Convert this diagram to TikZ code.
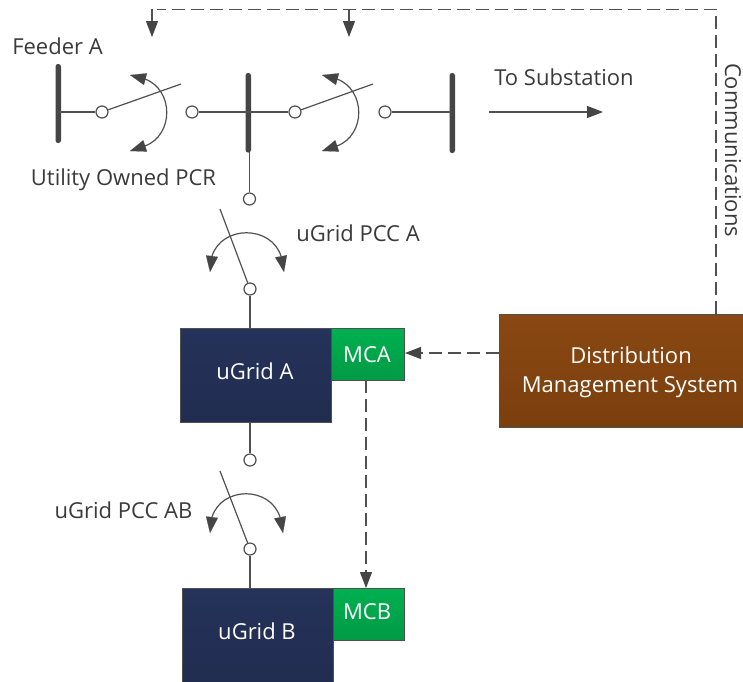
\documentclass[tikz,border=0pt]{standalone}
\usepackage{fontspec}
\setmainfont{Open Sans}
\usetikzlibrary{arrows.meta,calc}
\definecolor{ln}{HTML}{505050}
\definecolor{hd}{HTML}{454545}
\definecolor{tx}{HTML}{3A3A3A}
\definecolor{navyT}{HTML}{253259}
\definecolor{navyB}{HTML}{212C50}
\definecolor{greenT}{HTML}{00B050}
\definecolor{greenB}{HTML}{029A45}
\definecolor{brownT}{HTML}{8A4812}
\definecolor{brownB}{HTML}{7A3F0E}
\tikzset{
  x=1pt,y=-1pt,
  wire/.style={draw=ln,line width=1.2pt},
  comm/.style={draw=ln,line width=1.2pt,dash pattern=on 13pt off 6pt},
  bighead/.tip={Triangle[length=16pt,width=12pt,color=hd]},
  tip/.style={-bighead},
  stub/.style={draw=ln,line width=.1pt,-bighead},
  contact/.style={circle,draw=ln,fill=white,line width=1.2pt,minimum size=12pt,inner sep=0pt},
  lab/.style={text=tx,font=\fontsize{22}{26}\selectfont,inner sep=0pt},
  boxlab/.style={text=white,font=\fontsize{22}{26}\selectfont,inner sep=0pt},
  grid/.style={rectangle,draw=ln,line width=1pt,top color=navyT,bottom color=navyB,anchor=north west,inner sep=0pt},
  mc/.style={rectangle,draw=ln,line width=1pt,top color=greenT,bottom color=greenB,anchor=north west,inner sep=0pt},
}
\begin{document}
\begin{tikzpicture}
\useasboundingbox (0,0) rectangle (743,681);
% buses
\fill[hd,rounded corners=2.5pt] (55.5,64) rectangle (61,143);
\coordinate (busA) at (58,112);
\fill[hd,rounded corners=2.5pt] (245.5,73) rectangle (251,152.5);
\coordinate (busB) at (248,112);
\coordinate (busBlow) at (249.5,152);
\fill[hd,rounded corners=2.5pt] (449.5,73) rectangle (455,153);
\coordinate (busC) at (452,112);
% boxes
\node[grid,minimum width=151pt,minimum height=94pt] (gridA) at (180,328) {};
\node[boxlab] at (255,371) {uGrid A};
\node[mc,minimum width=73pt,minimum height=52pt] (mca) at (331,328) {};
\node[boxlab] at (367,355) {MCA};
\node[grid,minimum width=151pt,minimum height=100pt] (gridB) at (182,588) {};
\node[boxlab] at (257,631) {uGrid B};
\node[mc,minimum width=71pt,minimum height=52pt] (mcb) at (333,588) {};
\node[boxlab] at (367,612) {MCB};
\node[rectangle,draw=ln,line width=1pt,top color=brownT,bottom color=brownB,anchor=north west,inner sep=0pt,minimum width=250pt,minimum height=113pt] (dms) at (499,314) {};
\node[boxlab] at (631,355) {Distribution};
\node[boxlab] at (630,387) {Management System};
% contacts
\node[contact] (c1) at (102,112) {};
\node[contact] (c2) at (192,112) {};
\node[contact] (c3) at (295,112) {};
\node[contact] (c4) at (385,112) {};
\node[contact] (c5) at (249.5,199) {};
\node[contact] (c6) at (250,289) {};
\node[contact] (c7) at (250,460) {};
\node[contact] (c8) at (250,549) {};
% wires
\draw[wire] (busA) -- (c1);
\draw[wire] (c2) -- (busB);
\draw[wire] (busB) -- (c3);
\draw[wire] (c4) -- (busC);
\draw[wire] (busBlow) -- (c5);
\draw[wire] (c6) -- (gridA.north -| c6);
\draw[wire] (gridA.south -| c7) -- (c7);
\draw[wire] (c8) -- (gridB.north -| c8);
% blades
\coordinate (b1) at (181,84);
\coordinate (b2) at (373,84);
\coordinate (b3) at (220,209);
\coordinate (b4) at (220,471);
\draw[wire] (c1) -- (b1);
\draw[wire] (c3) -- (b2);
\draw[wire] (c6) -- (b3);
\draw[wire] (c8) -- (b4);
% swing arcs: bare curve, then a head at each end
\coordinate (s1a) at (130,75); \coordinate (s1A) at (145,79);
\coordinate (s1b) at (130,151); \coordinate (s1B) at (145,146);
\coordinate (s2a) at (322,75); \coordinate (s2A) at (337,79);
\coordinate (s2b) at (322,151); \coordinate (s2B) at (337,146);
\coordinate (s3a) at (210,272); \coordinate (s3A) at (212,256);
\coordinate (s3b) at (284,272); \coordinate (s3B) at (281,256);
\coordinate (s4a) at (210,533); \coordinate (s4A) at (212,517);
\coordinate (s4b) at (283,533); \coordinate (s4B) at (280,517);
\draw[wire] (s1A) .. controls (174,90) and (174,135) .. (s1B);
\draw[wire] (s2A) .. controls (366,90) and (366,135) .. (s2B);
\draw[wire] (s3A) .. controls (222,225) and (271,225) .. (s3B);
\draw[wire] (s4A) .. controls (222,486) and (270,486) .. (s4B);
\draw[stub] (s1A) -- (s1a);
\draw[stub] (s1B) -- (s1b);
\draw[stub] (s2A) -- (s2a);
\draw[stub] (s2B) -- (s2b);
\draw[stub] (s3A) -- (s3a);
\draw[stub] (s3B) -- (s3b);
\draw[stub] (s4A) -- (s4a);
\draw[stub] (s4B) -- (s4b);
% substation arrow
\coordinate (sub0) at (489,112);
\coordinate (sub1) at (603,112);
\draw[wire,tip] (sub0) -- (sub1);
% communications
\coordinate (top) at (716,9.3);
\coordinate (topL) at (152,9.3);
\coordinate (arrL) at (152,37);
\coordinate (topM) at (349,9.3);
\coordinate (arrM) at (349,37);
\coordinate (dmsT) at (716,314);
\draw[comm] (dmsT) -- (top) -- (157,9.3);
\draw[wire,tip] (topL) -- (arrL);
\draw[wire,tip] (topM) -- (arrM);
\coordinate (dmsL) at (499,353);
\coordinate (mcaR) at (405,353);
\draw[comm,-bighead] (dmsL) -- (mcaR);
\coordinate (mcaB) at (366,380);
\coordinate (mcbT) at (366,588);
\draw[comm,-bighead] (mcaB) -- (mcbT);
% labels
\node[lab] (l1) at (57.5,46) {Feeder A};
\node[lab] (l2) at (123.5,180) {Utility Owned PCR};
\node[lab] (l3) at (358,233) {uGrid PCC A};
\node[lab] (l4) at (123.5,510) {uGrid PCC AB};
\node[lab] (l5) at (564,77) {To Substation};
\node[lab,rotate=-90] (l6) at (733,150) {Communications};
\end{tikzpicture}
\end{document}
